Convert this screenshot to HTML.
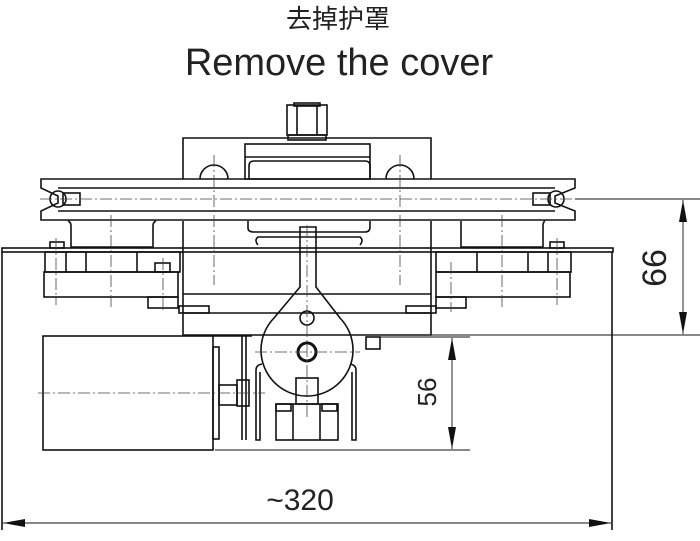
<!DOCTYPE html>
<html><head><meta charset="utf-8"><style>
html,body{margin:0;padding:0;background:#fff;width:700px;height:541px;overflow:hidden}
svg{display:block}
</style></head><body>
<svg width="700" height="541" viewBox="0 0 700 541" xmlns="http://www.w3.org/2000/svg">
<text x="338" y="28" font-family="Liberation Sans, Noto Sans CJK SC, sans-serif" font-size="26" text-anchor="middle" fill="#222">去掉护罩</text>
<text x="339" y="75" font-family="Liberation Sans, sans-serif" font-size="38" text-anchor="middle" fill="#222">Remove the cover</text>
<g fill="none" stroke="#111" stroke-width="1.6">
<rect x="287" y="105" width="40" height="30"/>
<line x1="297" y1="105" x2="297" y2="135"/><line x1="317" y1="105" x2="317" y2="135"/>
<rect x="294" y="103" width="26" height="3"/>
<rect x="288" y="135" width="38" height="5"/>
<path d="M183 179 V138 H431 V179"/>
<path d="M183 221 V335 H431 V221"/>
<rect x="245" y="144" width="125" height="35"/>
<line x1="245" y1="157" x2="370" y2="157"/>
<path d="M249 179 V166 Q249 161 254 161 H365 Q370 161 370 166 V179"/>
<path d="M200 179 A14 14 0 0 1 228 179"/>
<path d="M386 179 A14 14 0 0 1 414 179"/>
<path d="M41 179 H575 V188 L555 196 V203 L575 211 V220 H41 V211 L58 203 V196 L41 188 Z"/>
<line x1="58" y1="188" x2="555" y2="188"/>
<line x1="58" y1="211" x2="555" y2="211"/>
<circle cx="58" cy="199" r="8"/><circle cx="556" cy="199" r="8"/>
<rect x="63" y="193" width="17" height="12"/><rect x="533" y="193" width="17" height="12"/>
<path d="M68 221 Q71 222 71 226 V247 H153 V226 Q153 222 156 221"/>
<path d="M461 221 Q461 225 461 247 H543 V226 Q543 222 545 221"/>
<path d="M248 221 V228 Q248 232 254 232 H365 Q370 232 370 227 V221"/>
<path d="M258 245 Q254 240 258 237 H360 Q364 240 360 245"/>
<rect x="2" y="248" width="611" height="4"/>
<line x1="2" y1="252" x2="2" y2="530"/>
<line x1="612" y1="252" x2="612" y2="530"/>
<rect x="45" y="252" width="135" height="20"/>
<line x1="66" y1="252" x2="66" y2="272"/><line x1="86" y1="252" x2="86" y2="272"/><line x1="137" y1="252" x2="137" y2="272"/>
<rect x="44" y="272" width="134" height="25"/>
<rect x="148" y="297" width="30" height="11"/>
<rect x="179" y="306" width="30" height="7"/>
<rect x="50" y="242" width="14" height="6"/>
<rect x="155" y="263" width="15" height="9"/>
<line x1="183" y1="313" x2="431" y2="313"/>
<rect x="436" y="252" width="135" height="20"/>
<line x1="477" y1="252" x2="477" y2="272"/><line x1="528" y1="252" x2="528" y2="272"/><line x1="548" y1="252" x2="548" y2="272"/>
<rect x="436" y="272" width="134" height="25"/>
<rect x="436" y="297" width="30" height="11"/>
<rect x="406" y="306" width="30" height="7"/>
<rect x="550" y="242" width="14" height="6"/>
<line x1="183" y1="294" x2="431" y2="294"/>
<path d="M300 227 H316 V287 L340 318 A46 46 0 1 1 274 318 L300 287 Z"/>
<circle cx="307" cy="318" r="7"/>
<circle cx="307" cy="352" r="9" stroke-width="3"/>
<rect x="296" y="378" width="22" height="26"/>
<rect x="366" y="337" width="14" height="12"/>
<path d="M260 372 V440 H256 V370 Q256 365 262 364"/>
<path d="M352 372 V440 H356 V370 Q356 365 350 364"/>
<rect x="276" y="404" width="62" height="36"/>
<line x1="293" y1="404" x2="293" y2="440"/><line x1="320" y1="404" x2="320" y2="440"/>
<rect x="276" y="404" width="15" height="7"/><rect x="322" y="404" width="15" height="7"/>
<line x1="242" y1="336" x2="242" y2="440"/><line x1="246" y1="336" x2="246" y2="440"/>
<rect x="43" y="336" width="170" height="114"/>
<rect x="213" y="347" width="6" height="92"/>
<rect x="219" y="385" width="18" height="20"/>
<rect x="237" y="380" width="12" height="26"/>
<line x1="213" y1="336" x2="252" y2="336"/>
</g>
<g fill="none" stroke="#444" stroke-width="0.8" stroke-dasharray="12 3 2 3">
<line x1="40" y1="199" x2="600" y2="199"/>
<line x1="38" y1="393" x2="265" y2="393"/>
<line x1="255" y1="352" x2="360" y2="352"/>
<line x1="307" y1="225" x2="307" y2="420"/>
<line x1="214" y1="155" x2="214" y2="285"/>
<line x1="400" y1="155" x2="400" y2="285"/>
<line x1="111" y1="215" x2="111" y2="310"/>
<line x1="502" y1="215" x2="502" y2="310"/>
<line x1="56" y1="238" x2="56" y2="305"/>
<line x1="557" y1="238" x2="557" y2="305"/>
<line x1="163" y1="258" x2="163" y2="312"/>
<line x1="451" y1="262" x2="451" y2="312"/>
</g>
<g stroke="#111" stroke-width="0.9" fill="none">
<line x1="575" y1="199" x2="700" y2="199"/>
<line x1="431" y1="335" x2="700" y2="335"/>
<line x1="683" y1="200" x2="683" y2="334"/>
<line x1="380" y1="337" x2="470" y2="337"/>
<line x1="215" y1="450" x2="470" y2="450"/>
<line x1="452" y1="338" x2="452" y2="449"/>
<line x1="3" y1="523" x2="611" y2="523"/>
</g>
<g fill="#111">
<polygon points="683,200 679,222 687,222"/>
<polygon points="683,334 679,312 687,312"/>
<polygon points="452,338 448,360 456,360"/>
<polygon points="452,449 448,427 456,427"/>
<polygon points="3,523 25,519 25,527"/>
<polygon points="611,523 589,519 589,527"/>
</g>
<text transform="translate(666,268) rotate(-90)" font-family="Liberation Sans, sans-serif" font-size="34" text-anchor="middle" fill="#222">66</text>
<text transform="translate(436,392) rotate(-90)" font-family="Liberation Sans, sans-serif" font-size="26" text-anchor="middle" fill="#222">56</text>
<text x="300" y="510" font-family="Liberation Sans, sans-serif" font-size="30" text-anchor="middle" fill="#222">~320</text>
</svg>
</body></html>
